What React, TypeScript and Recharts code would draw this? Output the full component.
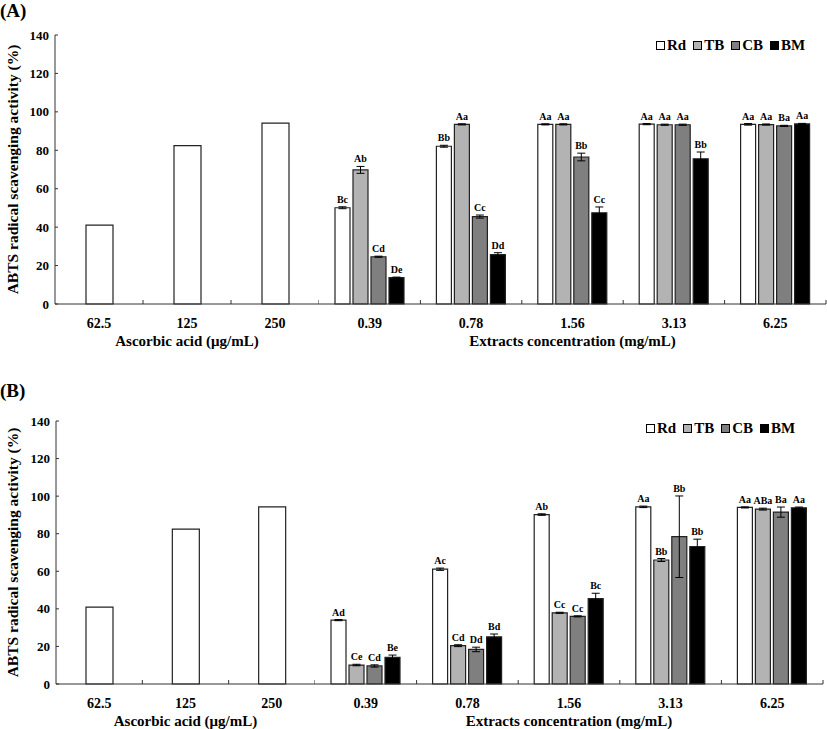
import React from "react";
import { Bar, BarChart, ErrorBar, LabelList, Legend, XAxis, YAxis } from "recharts";

const FONT = '"Liberation Serif", "Times New Roman", serif';

const doses = ["62.5", "125", "250"];
const extracts = ["0.39", "0.78", "1.56", "3.13", "6.25"];
const yTicks = [0, 20, 40, 60, 80, 100, 120, 140];
const seriesNames = ["Rd", "TB", "CB", "BM"];
const seriesFills = ["#ffffff", "#b3b3b3", "#7f7f7f", "#000000"];

// panel A
const ascorbicA = [41.0, 82.4, 94.1];
const rdA = [50.1, 82.1, 93.5, 93.6, 93.5];
const tbA = [69.8, 93.5, 93.5, 93.3, 93.4];
const cbA = [24.6, 45.5, 76.5, 93.3, 92.7];
const bmA = [13.7, 25.7, 47.5, 75.6, 93.7];
const rdErrA = [0.5, 0.5, 0.3, 0.3, 0.4];
const tbErrA = [1.8, 0.3, 0.3, 0.3, 0.3];
const cbErrA = [0.3, 0.8, 2.0, 0.3, 0.3];
const bmErrA = [0.3, 1.0, 3.0, 3.5, 0.3];
const rdLetA = ["Bc", "Bb", "Aa", "Aa", "Aa"];
const tbLetA = ["Ab", "Aa", "Aa", "Aa", "Aa"];
const cbLetA = ["Cd", "Cc", "Bb", "Aa", "Ba"];
const bmLetA = ["De", "Dd", "Cc", "Bb", "Aa"];

// panel B
const ascorbicB = [40.9, 82.4, 94.3];
const rdB = [34.0, 61.1, 90.2, 94.3, 94.0];
const tbB = [10.1, 20.4, 37.9, 66.0, 93.1];
const cbB = [9.6, 18.4, 36.0, 78.4, 91.5];
const bmB = [14.2, 25.1, 45.4, 73.2, 93.8];
const rdErrB = [0.3, 0.6, 0.4, 0.4, 0.3];
const tbErrB = [0.4, 0.5, 0.3, 0.8, 0.5];
const cbErrB = [0.6, 1.2, 0.3, 21.7, 2.7];
const bmErrB = [1.2, 1.5, 2.9, 3.9, 0.4];
const rdLetB = ["Ad", "Ac", "Ab", "Aa", "Aa"];
const tbLetB = ["Ce", "Cd", "Cc", "Bb", "ABa"];
const cbLetB = ["Cd", "Dd", "Cc", "Bb", "Ba"];
const bmLetB = ["Be", "Bd", "Bc", "Bb", "Aa"];

const X_TICK_MARGIN = 14;
const Y_TICK_MARGIN = 6;

// category labels + small inward tick marks on the category boundaries
function makeXTick(step: number) {
  return (props: any) => {
    const { x, y, payload } = props;
    const axisY = y - X_TICK_MARGIN;
    return (
      <g>
        <line x1={x + step / 2} x2={x + step / 2} y1={axisY - 4} y2={axisY} stroke="#333" />
        <text x={x} y={y} dy="0.71em" textAnchor="middle" fontSize={14} fontWeight="bold" fontFamily={FONT} fill="#000">
          {payload.value}
        </text>
      </g>
    );
  };
}

function YTick(props: any) {
  const { x, y, payload } = props;
  const axisX = x + Y_TICK_MARGIN;
  return (
    <g>
      <line x1={axisX} x2={axisX + 3} y1={y} y2={y} stroke="#333" />
      <text x={x} y={y} dy="0.35em" textAnchor="end" fontSize={13} fontWeight="bold" fontFamily={FONT} fill="#000">
        {payload.value}
      </text>
    </g>
  );
}

function makeLetter(vals: number[], errs: number[], lets: string[]) {
  return (props: any) => {
    const { x, y, width, height, index } = props;
    const px = Number(height) / vals[index];
    const top = Number(y) - errs[index] * px;
    return (
      <text x={Number(x) + Number(width) / 2} y={top - 4} textAnchor="middle" fontSize={10} fontWeight="bold" fontFamily={FONT} fill="#000">
        {lets[index]}
      </text>
    );
  };
}

function LegendBox() {
  return (
    <div style={{ display: "flex", gap: 7, alignItems: "center", fontFamily: FONT, fontWeight: "bold", fontSize: 15, lineHeight: "18px", whiteSpace: "nowrap" }}>
      {seriesNames.map((n, i) => (
        <span key={n} style={{ display: "flex", alignItems: "center", gap: 2 }}>
          <span style={{ display: "inline-block", width: 7, height: 7, border: "1px solid #000", background: seriesFills[i] }} />
          {n}
        </span>
      ))}
    </div>
  );
}

type PanelProps = {
  top: number;
  plotH: number;
  yAxisW: number;
  splitX: number;
  endX: number;
  legendLeft: number;
  legendTop: number;
  ascorbic: number[];
  vals: number[][];
  errs: number[][];
  lets: string[][];
};

function Panel({ top, plotH, yAxisW, splitX, endX, legendLeft, legendTop, ascorbic, vals, errs, lets }: PanelProps) {
  const mTop = 35;
  const axisH = 48;
  const h = mTop + plotH + axisH;
  const leftData = doses.map((d, i) => ({ dose: d, value: ascorbic[i] }));
  const rightData = extracts.map((c, i) => {
    const row: any = { conc: c };
    seriesNames.forEach((n, s) => {
      row[n] = vals[s][i];
      row[n + "Err"] = errs[s][i];
    });
    return row;
  });
  const leftStep = (splitX - yAxisW) / doses.length;
  const rightW = endX - splitX + 1;
  const rightStep = (endX - splitX) / extracts.length;
  const labelStyle = { fontFamily: FONT, fontWeight: "bold", fontSize: 15, fill: "#000" };

  return (
    <div style={{ position: "absolute", left: 0, top, width: 827, height: h }}>
      <div style={{ position: "absolute", left: 0, top: 0 }}>
        <BarChart width={splitX} height={h} data={leftData} margin={{ top: mTop, right: 0, bottom: 0, left: 0 }} barSize={27}>
          <XAxis
            dataKey="dose"
            height={axisH}
            interval={0}
            tickSize={0}
            tickMargin={X_TICK_MARGIN}
            tickLine={false}
            tick={makeXTick(leftStep)}
            axisLine={{ stroke: "#333" }}
            label={{ value: "Ascorbic acid (μg/mL)", position: "insideTop", offset: 31, style: labelStyle }}
          />
          <YAxis
            width={yAxisW}
            domain={[0, 140]}
            ticks={yTicks}
            interval={0}
            tickSize={0}
            tickMargin={Y_TICK_MARGIN}
            tickLine={false}
            axisLine={{ stroke: "#333" }}
            tick={<YTick />}
            label={{ value: "ABTS radical scavenging activity (%)", angle: -90, position: "insideLeft", offset: 12, style: { ...labelStyle, fontSize: 15.5, textAnchor: "middle" } }}
          />
          <Bar dataKey="value" fill="#ffffff" stroke="#222" strokeWidth={1.2} isAnimationActive={false} />
        </BarChart>
      </div>
      <div style={{ position: "absolute", left: splitX, top: 0 }}>
        <BarChart width={rightW} height={h} data={rightData} margin={{ top: mTop, right: 1, bottom: 0, left: 0 }} barSize={15} barGap={3}>
          <XAxis
            dataKey="conc"
            height={axisH}
            interval={0}
            tickSize={0}
            tickMargin={X_TICK_MARGIN}
            tickLine={false}
            tick={makeXTick(rightStep)}
            axisLine={{ stroke: "#333" }}
            label={{ value: "Extracts concentration (mg/mL)", position: "insideTop", offset: 31, style: labelStyle }}
          />
          <YAxis hide width={0} domain={[0, 140]} ticks={yTicks} />
          <Legend
            layout="horizontal"
            verticalAlign="middle"
            align="center"
            wrapperStyle={{ top: legendTop, left: legendLeft, width: "auto", height: 18 }}
            content={() => <LegendBox />}
          />
          {seriesNames.map((n, s) => (
            <Bar key={n} dataKey={n} name={n} fill={seriesFills[s]} stroke="#222" strokeWidth={1.2} isAnimationActive={false}>
              <ErrorBar dataKey={n + "Err"} width={4} stroke="#000" strokeWidth={1} />
              <LabelList dataKey={n} content={makeLetter(vals[s], errs[s], lets[s])} />
            </Bar>
          ))}
        </BarChart>
      </div>
    </div>
  );
}

export default function App() {
  const titleStyle: React.CSSProperties = { position: "absolute", left: 0, fontFamily: FONT, fontWeight: "bold", fontSize: 19, lineHeight: "20px" };
  return (
    <div style={{ position: "absolute", left: 0, top: 0, width: 827, height: 729, background: "#fff", overflow: "hidden" }}>
      <Panel
        top={0}
        plotH={269}
        yAxisW={55}
        splitX={319}
        endX={826}
        legendLeft={337}
        legendTop={36}
        ascorbic={ascorbicA}
        vals={[rdA, tbA, cbA, bmA]}
        errs={[rdErrA, tbErrA, cbErrA, bmErrA]}
        lets={[rdLetA, tbLetA, cbLetA, bmLetA]}
      />
      <Panel
        top={386}
        plotH={263}
        yAxisW={56}
        splitX={315}
        endX={823}
        legendLeft={331}
        legendTop={33}
        ascorbic={ascorbicB}
        vals={[rdB, tbB, cbB, bmB]}
        errs={[rdErrB, tbErrB, cbErrB, bmErrB]}
        lets={[rdLetB, tbLetB, cbLetB, bmLetB]}
      />
      <div style={{ ...titleStyle, top: 1 }}>(A)</div>
      <div style={{ ...titleStyle, top: 381 }}>(B)</div>
    </div>
  );
}
